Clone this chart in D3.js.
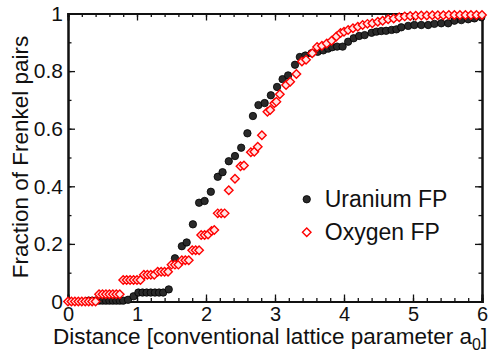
<!DOCTYPE html>
<html>
<head>
<meta charset="utf-8">
<script src="https://cdn.jsdelivr.net/npm/d3@7"></script>
<style>
    body { margin: 0; background: #fff; }
    text { font-family: "Liberation Sans", Arial, Helvetica, sans-serif; fill: #111; }
    .axis path, .axis line { stroke: #111; }
</style>
</head>
<body>
<div id="plot"></div>
<script>
// cumulative fraction of Frenkel pairs vs distance (in units of a0)
const uraniumX = [0.3, 0.35, 0.4, 0.45, 0.5, 0.55, 0.6, 0.65, 0.7, 0.75, 0.8, 0.87, 0.95,
    1.02, 1.08, 1.14, 1.2, 1.26, 1.32, 1.38, 1.46, 1.55, 1.65, 1.72, 1.81, 1.9, 1.98, 2.07,
    2.17, 2.24, 2.33, 2.42, 2.51, 2.6, 2.68, 2.76, 2.85, 2.94, 3.03, 3.11, 3.19, 3.29, 3.36,
    3.44, 3.53, 3.62, 3.7, 3.77, 3.83, 3.9, 3.98, 4.06, 4.14, 4.22, 4.3, 4.4, 4.47, 4.54,
    4.61, 4.69, 4.76, 4.83, 4.93, 5.02, 5.12, 5.22, 5.31, 5.41, 5.51, 5.6, 5.7, 5.8, 5.89, 5.99];
const uraniumY = [0.003, 0.003, 0.003, 0.003, 0.003, 0.003, 0.003, 0.003, 0.003, 0.003, 0.003, 0.006, 0.018,
    0.031, 0.031, 0.031, 0.031, 0.031, 0.031, 0.031, 0.042, 0.15, 0.192, 0.205, 0.268, 0.343, 0.349, 0.381,
    0.433, 0.449, 0.487, 0.505, 0.534, 0.584, 0.644, 0.682, 0.689, 0.716, 0.745, 0.772, 0.785, 0.822, 0.849,
    0.854, 0.862, 0.867, 0.872, 0.878, 0.883, 0.885, 0.885, 0.902, 0.914, 0.922, 0.925, 0.933, 0.937, 0.939,
    0.94, 0.943, 0.945, 0.952, 0.957, 0.96, 0.96, 0.96, 0.964, 0.966, 0.966, 0.975, 0.977, 0.98, 0.983, 0.987];

const oxygenX = [0, 0.05, 0.1, 0.15, 0.2, 0.25, 0.3, 0.35, 0.4,
    0.45, 0.5, 0.55, 0.6, 0.65, 0.7, 0.75,
    0.8, 0.85, 0.9, 0.95, 1.0, 1.05, 1.1, 1.15, 1.2, 1.25, 1.3, 1.35, 1.4, 1.45,
    1.5, 1.55, 1.6, 1.65, 1.7, 1.75, 1.8, 1.85, 1.9, 1.93, 1.98, 2.03, 2.08, 2.12,
    2.17, 2.22, 2.27, 2.33, 2.42, 2.5, 2.55, 2.65, 2.7, 2.75, 2.81, 2.89, 2.93, 2.99, 3.02,
    3.07, 3.16, 3.22, 3.31, 3.39, 3.45, 3.54, 3.61, 3.68, 3.75, 3.82, 3.89, 3.95, 4.0, 4.06,
    4.13, 4.2, 4.27, 4.34, 4.41, 4.49, 4.56, 4.64, 4.72, 4.8, 4.88, 4.96, 5.04, 5.12, 5.2,
    5.28, 5.36, 5.44, 5.52, 5.6, 5.68, 5.76, 5.84, 5.92, 6.0];
const oxygenY = [0, 0, 0, 0, 0, 0, 0, 0, 0,
    0.025, 0.025, 0.025, 0.025, 0.025, 0.025, 0.025,
    0.075, 0.075, 0.075, 0.075, 0.075, 0.075, 0.093, 0.093, 0.093, 0.093, 0.103, 0.103, 0.103, 0.103,
    0.128, 0.128, 0.128, 0.143, 0.143, 0.143, 0.178, 0.178, 0.178, 0.231, 0.231, 0.233, 0.245, 0.248,
    0.306, 0.306, 0.306, 0.386, 0.426, 0.47, 0.472, 0.518, 0.52, 0.537, 0.577, 0.659, 0.665, 0.688, 0.694,
    0.72, 0.752, 0.763, 0.79, 0.833, 0.839, 0.862, 0.884, 0.888, 0.896, 0.905, 0.92, 0.932, 0.937, 0.943,
    0.949, 0.954, 0.96, 0.964, 0.966, 0.971, 0.975, 0.98, 0.983, 0.987, 0.99, 0.991, 0.992, 0.993, 0.993,
    0.994, 0.994, 0.994, 0.995, 0.995, 0.995, 0.995, 0.995, 0.995, 0.995];

const xTicks = [0, 1, 2, 3, 4, 5, 6];
const yTicks = [0, 0.2, 0.4, 0.6, 0.8, 1];
const seriesNames = ['Uranium FP', 'Oxygen FP'];

let W = 498, H = 354;
let margin = {top: 13.5, right: 16, bottom: 52.5, left: 68};
let width = W - margin.left - margin.right;
let height = H - margin.top - margin.bottom;

let svg = d3.select('#plot').append('svg')
    .attr('width', W)
    .attr('height', H);

let g = svg.append('g').attr('transform', 'translate(' + margin.left + ',' + margin.top + ')');

let x = d3.scaleLinear().domain([0, 6]).range([0, width]);
let y = d3.scaleLinear().domain([0, 1]).range([height, 0]);

let xMinor = d3.range(0, 30.5, 1).map(d => d / 5);
let yMinor = d3.range(0, 10.5, 1).map(d => d / 10);
let fmt = d3.format('~g');

// minor ticks first, all four sides, pointing inward
g.append('g').attr('class', 'axis').attr('transform', 'translate(0,' + height + ')')
    .call(d3.axisBottom(x).tickValues(xMinor).tickSize(-3.5).tickFormat(''));
g.append('g').attr('class', 'axis')
    .call(d3.axisTop(x).tickValues(xMinor).tickSize(-3.5).tickFormat(''));
g.append('g').attr('class', 'axis')
    .call(d3.axisLeft(y).tickValues(yMinor).tickSize(-3.5).tickFormat(''));
g.append('g').attr('class', 'axis').attr('transform', 'translate(' + width + ',0)')
    .call(d3.axisRight(y).tickValues(yMinor).tickSize(-3.5).tickFormat(''));

// major ticks
let xAxis = g.append('g').attr('class', 'axis').attr('transform', 'translate(0,' + height + ')')
    .call(d3.axisBottom(x).tickValues(xTicks).tickSize(-7).tickFormat(fmt));
g.append('g').attr('class', 'axis')
    .call(d3.axisTop(x).tickValues(xTicks).tickSize(-7).tickFormat(''));
let yAxis = g.append('g').attr('class', 'axis')
    .call(d3.axisLeft(y).tickValues(yTicks).tickSize(-7).tickPadding(5).tickFormat(fmt));
g.append('g').attr('class', 'axis').attr('transform', 'translate(' + width + ',0)')
    .call(d3.axisRight(y).tickValues(yTicks).tickSize(-7).tickFormat(''));

g.selectAll('.axis line').attr('stroke-width', 1.3);
g.selectAll('.axis path').attr('stroke-width', 2);
xAxis.selectAll('text').style('font-size', '20px').attr('y', 19.5).attr('dy', 0);
yAxis.selectAll('text').style('font-size', '21px');

// axis titles
let xt = svg.append('text')
    .attr('x', 53)
    .attr('y', 344)
    .style('font-size', '22.5px');
xt.append('tspan').text('Distance [conventional lattice parameter a');
xt.append('tspan').attr('dy', 6).style('font-size', '16px').text('0');
xt.append('tspan').attr('dy', -6).text(']');

svg.append('text')
    .attr('transform', 'translate(28,' + 157 + ') rotate(-90)')
    .attr('text-anchor', 'middle')
    .style('font-size', '22.5px')
    .text('Fraction of Frenkel pairs');

let diamond = d3.symbol().type(d3.symbolDiamond2).size(46);

// uranium: dark filled circles
g.append('g').selectAll('circle')
    .data(d3.zip(uraniumX, uraniumY))
    .join('circle')
    .attr('cx', d => x(d[0]))
    .attr('cy', d => y(d[1]))
    .attr('r', 3.7)
    .attr('fill', '#2a2a2a')
    .attr('stroke', '#000')
    .attr('stroke-width', 0.8);

// oxygen: open red diamonds
g.append('g').selectAll('path')
    .data(d3.zip(oxygenX, oxygenY))
    .join('path')
    .attr('transform', d => 'translate(' + x(d[0]) + ',' + y(d[1]) + ')')
    .attr('d', diamond)
    .attr('fill', '#ffe4e4')
    .attr('stroke', '#ff0000')
    .attr('stroke-width', 1.4);

// legend
let leg = g.append('g').attr('transform', 'translate(' + x(3.46) + ',' + y(0.355) + ')');
leg.append('circle').attr('cx', 0).attr('cy', 0).attr('r', 3.7)
    .attr('fill', '#2a2a2a').attr('stroke', '#000').attr('stroke-width', 0.8);
leg.append('text').attr('x', 18).attr('y', 8).style('font-size', '23px').text(seriesNames[0]);
leg.append('path').attr('transform', 'translate(0,33)').attr('d', diamond)
    .attr('fill', '#fff').attr('stroke', '#ff0000').attr('stroke-width', 1.4);
leg.append('text').attr('x', 18).attr('y', 41).style('font-size', '23px').text(seriesNames[1]);
</script>
</body>
</html>
